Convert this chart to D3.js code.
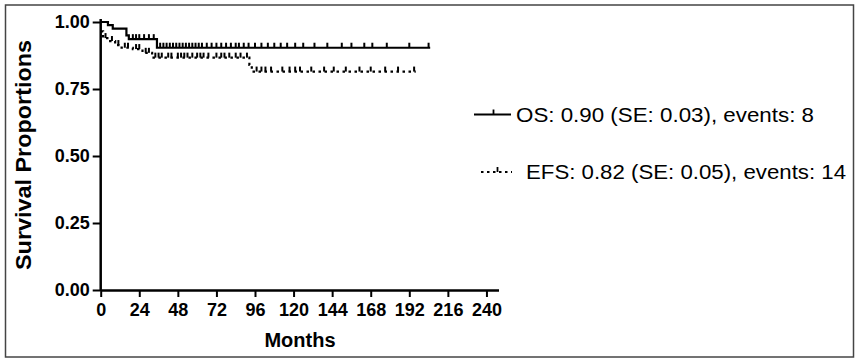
<!DOCTYPE html>
<html>
<head>
<meta charset="utf-8">
<script src="https://cdn.jsdelivr.net/npm/d3@7"></script>
<style>
  body { margin: 0; background: #fff; }
  svg { display: block; font-family: Arial, "Liberation Sans", sans-serif; }
</style>
</head>
<body>
<div class="board"></div>
<script>
// Kaplan-Meier steps (months, survival proportion)
var osTimes = [0, 4.5, 7.5, 16, 17.5, 35, 205];
var osSurv  = [1.0, 0.988, 0.975, 0.95, 0.936, 0.904, 0.904];
var osCensor = [20, 22, 24, 27, 30, 33,
  37, 39, 41, 43, 45, 47, 49, 51, 53, 55, 57, 59, 61, 63, 66, 69, 72, 75, 78, 81,
  84, 86, 89, 92, 96, 100, 104, 108, 112, 116, 121, 126, 133, 141, 150, 156,
  164, 169, 178, 192, 204];

var efsTimes = [0, 1.5, 5, 9, 13, 20, 26, 32, 92.5, 94, 196];
var efsSurv  = [0.965, 0.94, 0.929, 0.914, 0.904, 0.899, 0.885, 0.867, 0.84, 0.815, 0.815];
var efsCensor = [3, 7, 11, 15, 17, 22, 24, 28, 30,
  34, 36, 38, 42, 44, 48, 50, 52, 54, 57, 60, 62, 64, 67, 72, 75, 77, 80, 84, 87, 91,
  97, 100, 102.5, 106, 113, 117.5, 121, 124, 131, 139, 145, 152.5, 161, 168, 177, 185, 195];

var xTicks = [0, 24, 48, 72, 96, 120, 144, 168, 192, 216, 240];
var yTicks = [0, 0.25, 0.5, 0.75, 1.0];

var legendLabels = ["OS: 0.90 (SE: 0.03), events: 8", "EFS: 0.82 (SE: 0.05), events: 14"];

var boardInfo = { width: 858, height: 360 };

var svg = d3.select(".board").append("svg")
  .attr("width", boardInfo.width)
  .attr("height", boardInfo.height);

// frame round the whole figure
svg.append("rect")
  .attr("x", 5.5).attr("y", 5).attr("width", 848).attr("height", 352)
  .attr("fill", "none").attr("stroke", "#444").attr("stroke-width", 1.5);

var x = d3.scaleLinear().domain([0, 247.5]).range([100.7, 498.5]);
var y = d3.scaleLinear().domain([0, 1]).range([290, 22]);

// axes
var xAxis = svg.append("g")
  .attr("transform", "translate(0,290)")
  .call(d3.axisBottom(x).tickValues(xTicks).tickSize(7).tickPadding(6).tickSizeOuter(0));
var yAxis = svg.append("g")
  .attr("transform", "translate(100.7,0)")
  .call(d3.axisLeft(y).tickValues(yTicks).tickFormat(d3.format(".2f")).tickSize(8).tickPadding(3).tickSizeOuter(0));

[xAxis, yAxis].forEach(function(ax) {
  ax.select(".domain").attr("stroke", "#000").attr("stroke-width", 2.5);
  ax.selectAll(".tick line").attr("stroke", "#000").attr("stroke-width", 2);
  ax.selectAll(".tick text")
    .attr("fill", "#000")
    .style("font-size", "18px")
    .style("font-weight", "bold");
});
// y axis runs a little above 1.00
yAxis.select(".domain").attr("d", "M0,291V19");

svg.append("text")
  .attr("x", 300).attr("y", 347)
  .attr("text-anchor", "middle")
  .style("font-size", "20px").style("font-weight", "bold")
  .text("Months");

svg.append("text")
  .attr("transform", "translate(31,155) rotate(-90)")
  .attr("text-anchor", "middle")
  .attr("textLength", 230).attr("lengthAdjust", "spacingAndGlyphs")
  .style("font-size", "22px").style("font-weight", "bold")
  .text("Survival Proportions");

// curves
function toPoints(t, s) {
  return t.map(function(d, i) { return [d, s[i]]; });
}
function survAt(t, s, m) {
  var v = s[0];
  for (var i = 0; i < t.length; i++) { if (t[i] <= m) v = s[i]; }
  return v;
}

var step = d3.line()
  .x(function(d) { return x(d[0]); })
  .y(function(d) { return y(d[1]); })
  .curve(d3.curveStepAfter);

var series = [
  { times: osTimes, surv: osSurv, censor: osCensor, dash: null },
  { times: efsTimes, surv: efsSurv, censor: efsCensor, dash: "2.5,3.5" }
];

series.forEach(function(sr) {
  svg.append("path")
    .datum(toPoints(sr.times, sr.surv))
    .attr("d", step)
    .attr("fill", "none")
    .attr("stroke", "#000")
    .attr("stroke-width", 2.2)
    .attr("stroke-dasharray", sr.dash);

  svg.selectAll(null).data(sr.censor)
    .enter().append("line")
    .attr("x1", function(d) { return x(d); })
    .attr("x2", function(d) { return x(d); })
    .attr("y1", function(d) { return y(survAt(sr.times, sr.surv, d)); })
    .attr("y2", function(d) { return y(survAt(sr.times, sr.surv, d)) - 5; })
    .attr("stroke", "#000")
    .attr("stroke-width", 2);
});

// legend
var legend = [
  { y: 114.5, x1: 474, x2: 511, tx: 516, len: 298, dash: null },
  { y: 172, x1: 481, x2: 512, tx: 526, len: 320, dash: "2.5,3.5" }
];
legend.forEach(function(l, i) {
  svg.append("line")
    .attr("x1", l.x1).attr("x2", l.x2).attr("y1", l.y).attr("y2", l.y)
    .attr("stroke", "#000").attr("stroke-width", 2.2)
    .attr("stroke-dasharray", l.dash);
  svg.append("line")
    .attr("x1", (l.x1 + l.x2) / 2 + 1).attr("x2", (l.x1 + l.x2) / 2 + 1)
    .attr("y1", l.y).attr("y2", l.y - 5)
    .attr("stroke", "#000").attr("stroke-width", 1.8);
  svg.append("text")
    .attr("x", l.tx).attr("y", l.y + 7)
    .attr("textLength", l.len).attr("lengthAdjust", "spacingAndGlyphs")
    .style("font-size", "20px")
    .text(legendLabels[i]);
});
</script>
</body>
</html>
